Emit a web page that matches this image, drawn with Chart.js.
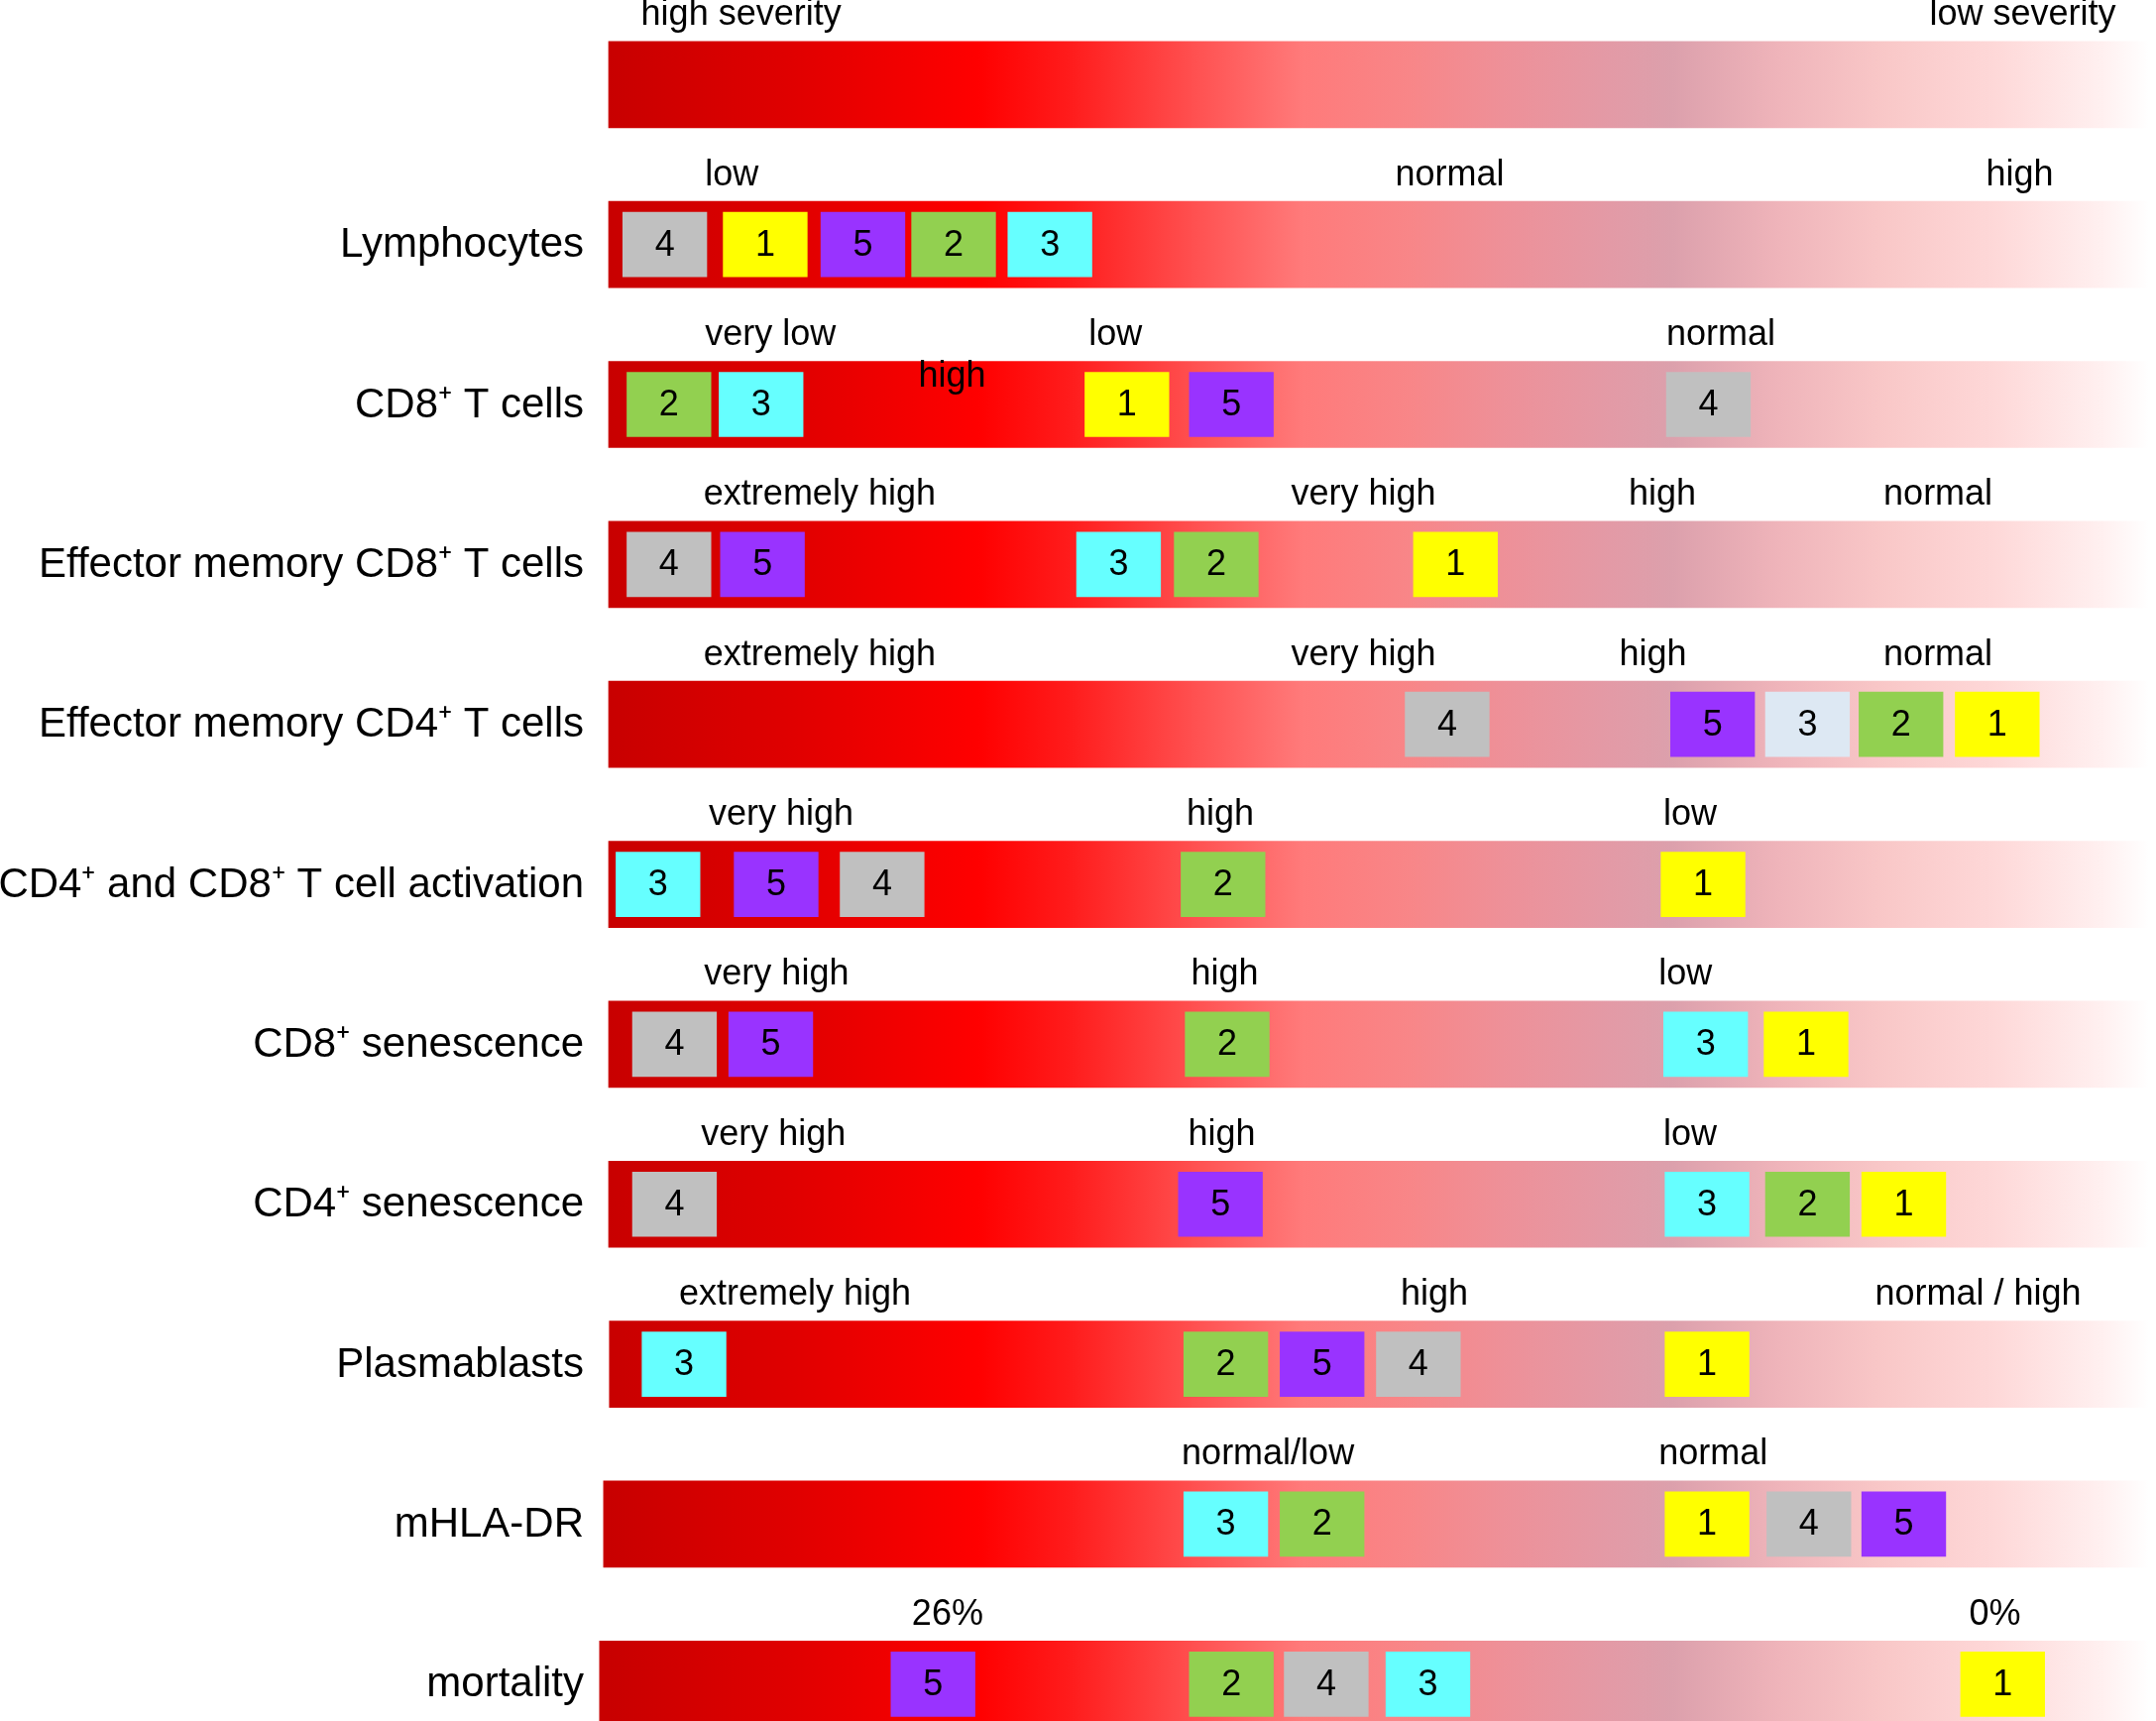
<!DOCTYPE html>
<html>
<head>
<meta charset="utf-8">
<script src="https://cdn.jsdelivr.net/npm/chart.js@4.4.1/dist/chart.umd.min.js"></script>
<style>
  html, body { margin: 0; padding: 0; background: #fff; }
  #wrap { width: 2175px; height: 1736px; position: relative; }
</style>
</head>
<body>
<div id="wrap"><canvas id="severityChart"></canvas></div>
<script>
// rows, top to bottom (first row is the severity scale itself)
var rowLabels = ['', 'Lymphocytes', 'CD8\u207A T cells', 'Effector memory CD8\u207A T cells',
    'Effector memory CD4\u207A T cells', 'CD4\u207A and CD8\u207A T cell activation',
    'CD8\u207A senescence', 'CD4\u207A senescence', 'Plasmablasts', 'mHLA-DR', 'mortality'];

// where each row's band starts on the 0-100 severity axis
var bandStart = [0, 0, 0, 0, 0, 0, 0, 0, 0.05, -0.33, -0.59];

// level words above each band and their centre on the axis
var levelText = [
    ['high severity', 'low severity'],
    ['low', 'normal', 'high'],
    ['very low', 'low', 'normal'],
    ['extremely high', 'very high', 'high', 'normal'],
    ['extremely high', 'very high', 'high', 'normal'],
    ['very high', 'high', 'low'],
    ['very high', 'high', 'low'],
    ['very high', 'high', 'low'],
    ['extremely high', 'high', 'normal / high'],
    ['normal/low', 'normal'],
    ['26%', '0%']
];
var levelPos = [
    [8.6, 91.8],
    [8.0, 54.6, 91.6],
    [10.5, 32.9, 72.2],
    [13.7, 49.0, 68.4, 86.3],
    [13.7, 49.0, 67.8, 86.3],
    [11.2, 39.7, 70.2],
    [10.9, 40.0, 69.9],
    [10.7, 39.8, 70.2],
    [12.1, 53.6, 88.9],
    [42.8, 71.7],
    [22.0, 90.0]
];
// the stray "high" printed inside the CD8+ T cell band
var innerText = ['high'];
var innerRow = [2];
var innerPos = [22.3];

// groups 1-5: left edge of each group's box per row (null = no box)
var groupNames = ['1', '2', '3', '4', '5'];
var group1 = [null, 7.44, 30.92, 52.25, 87.42, 68.32, 75.01, 81.35, 68.58, 68.58, 87.77];
var group2 = [null, 19.67, 1.19, 36.72, 81.17, 37.16, 37.43, 75.10, 37.34, 43.59, 37.70];
var group3 = [null, 25.92, 7.17, 30.38, 75.10, 0.48, 68.49, 68.58, 2.17, 37.34, 50.46];
var group4 = [null, 0.92, 68.67, 1.19, 51.71, 15.03, 1.55, 1.55, 49.84, 75.19, 43.86];
var group5 = [null, 13.78, 37.70, 7.26, 68.94, 8.15, 7.80, 36.99, 43.59, 81.35, 18.33];
var boxWidth = 5.45;

var groupColors = ['#ffff00', '#92d050', '#66ffff', '#c0c0c0', '#9933ff'];
var FONT = '"Liberation Sans", Arial, sans-serif';

function bandGradient(c) {
    var chart = c.chart;
    if (!chart.chartArea) return '#ff0000';
    var xs = chart.scales.x;
    var g = chart.ctx.createLinearGradient(xs.getPixelForValue(0), 0, xs.getPixelForValue(100), 0);
    g.addColorStop(0.00, '#c80000');
    g.addColorStop(0.12, '#e00000');
    g.addColorStop(0.24, '#ff0000');
    g.addColorStop(0.30, '#ff1c1c');
    g.addColorStop(0.38, '#ff5050');
    g.addColorStop(0.45, '#ff7a7a');
    g.addColorStop(0.52, '#f88688');
    g.addColorStop(0.58, '#ee9098');
    g.addColorStop(0.65, '#e39aa6');
    g.addColorStop(0.69, '#dca0ac');
    g.addColorStop(0.76, '#efb4ba');
    g.addColorStop(0.83, '#f9c8c8');
    g.addColorStop(0.90, '#fed8d8');
    g.addColorStop(0.97, '#fff0f0');
    g.addColorStop(1.00, '#ffffff');
    return g;
}

var groups = [group1, group2, group3, group4, group5];
var datasets = [{
    label: 'band',
    data: bandStart.map(function(s) { return [s, 100]; }),
    backgroundColor: bandGradient,
    barThickness: 87,
    grouped: false,
    clip: false,
    order: 10
}];
groups.forEach(function(starts, gi) {
    var colors = starts.map(function() { return groupColors[gi]; });
    if (gi === 2) colors[4] = '#dde8f3'; // the pale "3" in effector memory CD4+
    datasets.push({
        label: groupNames[gi],
        data: starts.map(function(s) { return s === null ? null : [s, s + boxWidth]; }),
        backgroundColor: colors,
        barThickness: 65,
        grouped: false,
        clip: false,
        order: 1
    });
});

var textPlugin = {
    id: 'severityText',
    afterDatasetsDraw: function(chart) {
        var ctx = chart.ctx;
        var xs = chart.scales.x, ys = chart.scales.y;
        ctx.save();
        ctx.fillStyle = '#000';
        ctx.textAlign = 'center';

        // numbers inside the boxes
        ctx.font = '36px ' + FONT;
        ctx.textBaseline = 'middle';
        for (var d = 1; d < chart.data.datasets.length; d++) {
            var meta = chart.getDatasetMeta(d);
            meta.data.forEach(function(el, i) {
                if (chart.data.datasets[d].data[i] === null) return;
                ctx.fillText(chart.data.datasets[d].label, (el.x + el.base) / 2, el.y + 1);
            });
        }

        // level words above the bands
        ctx.textBaseline = 'alphabetic';
        levelText.forEach(function(words, r) {
            var y = ys.getPixelForValue(r) - 60;
            words.forEach(function(w, k) {
                ctx.fillText(w, xs.getPixelForValue(levelPos[r][k]), y);
            });
        });
        innerText.forEach(function(w, k) {
            ctx.fillText(w, xs.getPixelForValue(innerPos[k]), ys.getPixelForValue(innerRow[k]) - 18);
        });
        ctx.restore();
    }
};

var ctx = document.getElementById('severityChart').getContext('2d');
var severityChart = new Chart(ctx, {
    type: 'bar',
    data: {
        labels: rowLabels,
        datasets: datasets
    },
    options: {
        indexAxis: 'y',
        responsive: true,
        maintainAspectRatio: false,
        devicePixelRatio: 1,
        animation: false,
        layout: { padding: { top: 85.3, bottom: 37.2, left: 0, right: 7 } },
        plugins: {
            legend: { display: false },
            tooltip: { enabled: false }
        },
        scales: {
            x: { type: 'linear', min: 0, max: 100, display: false },
            y: {
                offset: false,
                grid: { display: false, drawTicks: false },
                border: { display: false },
                ticks: {
                    padding: 25,
                    labelOffset: 1,
                    autoSkip: false,
                    color: '#000',
                    font: { family: FONT, size: 42 }
                },
                afterFit: function(scale) {
                    scale.width = 614;
                    // labels sit inside the padded area, keep the rows where the layout puts them
                    scale.paddingTop = 0;
                    scale.paddingBottom = 0;
                }
            }
        }
    },
    plugins: [textPlugin]
});
</script>
</body>
</html>
